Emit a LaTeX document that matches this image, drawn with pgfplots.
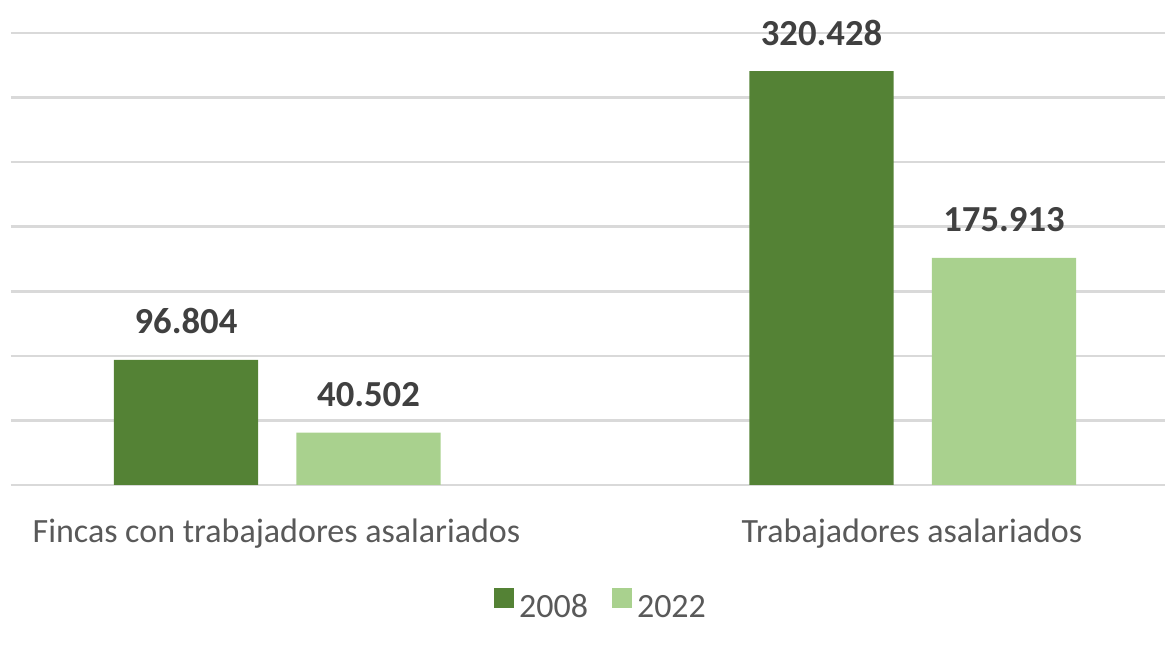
\documentclass[border=0pt]{standalone}
\usepackage{pgfplots}
\pgfplotsset{compat=1.18}
\usepackage{fontspec}
\setmainfont{Carlito}
\definecolor{dgreen}{HTML}{548235}
\definecolor{lgreen}{HTML}{A9D18E}
\definecolor{gridc}{HTML}{D9D9D9}
\definecolor{lblc}{HTML}{595959}
\definecolor{valc}{HTML}{404040}
\begin{document}
\begin{tikzpicture}
\begin{axis}[
  name=a,
  scale only axis,
  width=865.5pt, height=339pt,
  xmin=-0.4178, xmax=1.3981,
  ymin=0, ymax=350000,
  ytick={0,50000,...,350000},
  scaled y ticks=false,
  yticklabels={},
  ymajorgrids,
  major grid style={draw=gridc, line width=1.9pt},
  axis line style={draw=none},
  tick style={draw=none},
  xtick={0,1},
  xticklabels={Fincas con trabajadores asalariados, Trabajadores asalariados},
  xticklabel style={font=\fontsize{25.5}{30}\selectfont, text=lblc, anchor=base, yshift=-39pt, inner sep=0pt},
  ybar, bar width=0.227,
  clip=false,
  nodes near coords={\pgfmathprintnumber[fixed,precision=0,1000 sep={.},assume math mode=true]{\pgfplotspointmeta}},
  every node near coord/.append style={font=\bfseries\fontsize{27.5}{32}\selectfont, text=valc, anchor=base, yshift=19.5pt, inner sep=0pt},
  legend columns=2,
  legend style={at={(0.5104,-0.263)}, anchor=center, draw=none, fill=none,
    font=\fontsize{25.5}{30}\selectfont, text=lblc,
    nodes={inner sep=0pt},
    /tikz/every odd column/.append style={column sep=3.75pt},
    /tikz/every even column/.append style={column sep=18pt}},
  legend image code/.code={\fill[#1] (0pt,-0.5pt) rectangle (15pt,14.5pt);},
]
\addplot[fill=dgreen, draw=none, bar shift=-0.1424] coordinates {(0,96804) (1,320428)};
\addplot[fill=lgreen, draw=none, bar shift=0.1448] coordinates {(0,40502) (1,175913)};
\legend{2008,2022}
\end{axis}
\pgfresetboundingbox
\path[use as bounding box] ([xshift=-8.25pt,yshift=-126pt]a.south west) rectangle ([yshift=24.75pt]a.north east);
\end{tikzpicture}
\end{document}
